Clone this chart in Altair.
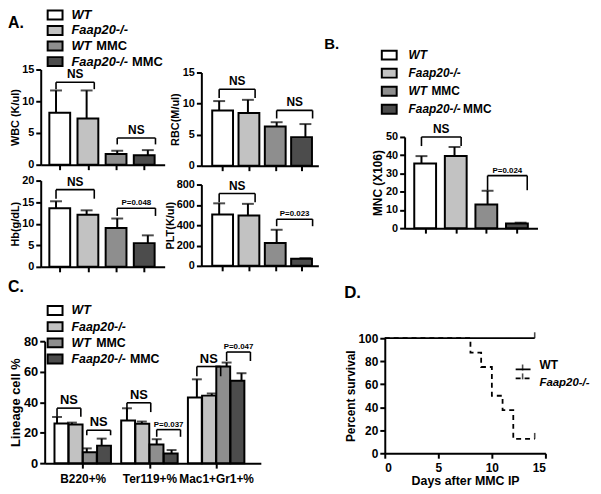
import json
import pandas as pd
import altair as alt

FONT = "Liberation Sans"

# ---------------- data ----------------
GROUPS = ["WT", "Faap20-/-", "WT MMC", "Faap20-/- MMC"]
GROUP_FILLS = ["#ffffff", "#c2c2c2", "#8e8e8e", "#4c4c4c"]

WBC_MEAN = [8.2, 7.3, 1.7, 1.5]
WBC_SEM = [3.5, 4.4, 0.5, 0.8]
RBC_MEAN = [8.9, 8.5, 6.3, 4.6]
RBC_SEM = [1.5, 2.1, 0.7, 2.1]
HB_MEAN = [13.6, 12.1, 9.0, 5.5]
HB_SEM = [1.6, 1.0, 2.2, 1.8]
PLT_MEAN = [505, 495, 225, 70]
PLT_SEM = [110, 115, 130, 5]
MNC_MEAN = [35.5, 39.5, 13.0, 2.5]
MNC_SEM = [4.0, 5.0, 7.5, 0.5]

LINEAGES = ["B220+%", "Ter119+%", "Mac1+Gr1+%"]
LIN_MEAN = {
    "WT": [26.0, 28.0, 43.0],
    "Faap20-/-": [25.3, 25.8, 44.3],
    "WT MMC": [7.1, 12.3, 63.4],
    "Faap20-/- MMC": [11.5, 6.3, 54.0],
}
LIN_SEM = {
    "WT": [4.3, 8.0, 12.0],
    "Faap20-/-": [1.3, 1.5, 1.4],
    "WT MMC": [2.6, 3.4, 2.6],
    "Faap20-/- MMC": [4.6, 2.3, 5.0],
}

# significance brackets: (bar a, bar b, level, leg end, label)
WBC_BR = [(0, 1, 13.0, 11.9, "NS"), (2, 3, 4.2, 3.2, "NS")]
RBC_BR = [(0, 1, 12.3, 10.9, "NS"), (2, 3, 8.9, 7.6, "NS")]
HB_BR = [(0, 1, 17.9, 15.8, "NS"), (2, 3, 13.6, 11.8, "P=0.048")]
PLT_BR = [(0, 1, 712, 625, "NS"), (2, 3, 459, 390, "P=0.023")]
MNC_BR = [(0, 1, 50.0, 45.0, "NS"), (2, 3, 28.8, 20.8, "P=0.024")]
LIN_BR = [(0, 0, 1, 36.1, 30.5, "NS"), (0, 2, 3, 21.6, 18.3, "NS"),
          (1, 0, 1, 39.6, 33.5, "NS"), (1, 2, 3, 22.0, 17.3, "P=0.037"),
          (2, 0, 1, 63.4, 57.0, "NS"), (2, 2, 3, 72.9, 67.0, "P=0.047")]

SURV_SERIES = ["WT", "Faap20-/-"]
WT_DAYS = [0, 14]
WT_PCT = [100, 100]
KO_DAYS = [0, 8, 9, 10, 11, 12, 14]
KO_PCT = [100, 87.5, 75, 50, 37.5, 12.5, 12.5]

PANEL_LABELS = ["A.", "B.", "C.", "D."]

# ---------------- layout helpers ----------------
W, H = 590, 480
OFF = 8


def px(v):
    return v - OFF


def py(v):
    return v - OFF


FILL_SCALE = alt.Scale(domain=GROUPS, range=GROUP_FILLS)
DASH_SCALE = alt.Scale(domain=SURV_SERIES, range=[[1, 0], [5, 4]])
RECT = "M-1,-0.6H1V0.6H-1Z"
GROUP_STEP = 4.7


def bar_panel(df, br, xdom, xrng, yaxis_x, xaxis_y, ydom, ytop, yticks, ytitle,
              bar_size, cap, fs_lab, fs_title, title_pad, ns_fs=12, p_fs=8,
              xvals=None, xlabel_expr=None, xlab_fs=12, right_shift=0.25):
    def xs():
        return alt.Scale(domain=xdom, range=[px(xrng[0]), px(xrng[1])], zero=False, nice=False)

    def ys():
        return alt.Scale(domain=ydom, range=[py(xaxis_y), py(ytop)], zero=False, nice=False)

    xaxis_kw = dict(orient="bottom", offset=py(xaxis_y) - H, values=xvals, title=None,
                    tickSize=5, domainWidth=2, tickWidth=2)
    if xlabel_expr is None:
        xaxis_kw["labels"] = False
    else:
        xaxis_kw.update(labelExpr=xlabel_expr, labelFontSize=xlab_fs, labelPadding=6,
                        labelOverlap=False)
    xaxis = alt.Axis(**xaxis_kw)
    yaxis = alt.Axis(orient="left", offset=-px(yaxis_x), values=yticks, title=ytitle,
                     labelFontSize=fs_lab, titleFontSize=fs_title, titlePadding=title_pad,
                     tickSize=5, domainWidth=2, tickWidth=2, labelPadding=2)
    base = alt.Chart(df).transform_calculate(top="datum.mean + datum.sem")
    err = base.mark_rule(color="black", strokeWidth=2).encode(
        x=alt.X("pos:Q", scale=xs(), axis=None),
        y=alt.Y("mean:Q", scale=ys(), axis=None), y2="top:Q")
    caps = base.mark_tick(orient="horizontal", size=cap, thickness=2, color="black").encode(
        x=alt.X("pos:Q", scale=xs(), axis=None), y=alt.Y("top:Q", scale=ys(), axis=None))
    bars = alt.Chart(df).mark_bar(size=bar_size, stroke="black", strokeWidth=2).encode(
        x=alt.X("pos:Q", scale=xs(), axis=xaxis),
        y=alt.Y("mean:Q", scale=ys(), axis=yaxis),
        y2=alt.datum(0),
        fill=alt.Fill("group:N", scale=FILL_SCALE, legend=None))
    bdf = pd.DataFrame(br, columns=["a", "b", "lev", "leg", "label"])
    bdf["x1"] = bdf["a"]
    bdf["x2"] = bdf["b"] + right_shift
    bb = alt.Chart(bdf)
    hline = bb.mark_rule(color="black", strokeWidth=1.6).encode(
        x=alt.X("x1:Q", scale=xs(), axis=None), x2="x2:Q",
        y=alt.Y("lev:Q", scale=ys(), axis=None))
    leg1 = bb.mark_rule(color="black", strokeWidth=1.6).encode(
        x=alt.X("x1:Q", scale=xs(), axis=None),
        y=alt.Y("lev:Q", scale=ys(), axis=None), y2="leg:Q")
    leg2 = bb.mark_rule(color="black", strokeWidth=1.6).encode(
        x=alt.X("x2:Q", scale=xs(), axis=None),
        y=alt.Y("lev:Q", scale=ys(), axis=None), y2="leg:Q")
    txt = bb.transform_calculate(mid="(datum.x1 + datum.x2) / 2").mark_text(
        baseline="bottom", dy=-1, font=FONT, fontWeight="bold", color="black").encode(
        x=alt.X("mid:Q", scale=xs(), axis=None),
        y=alt.Y("lev:Q", scale=ys(), axis=None), text="label:N",
        size=alt.condition(alt.datum.label == "NS", alt.value(ns_fs), alt.value(p_fs)))
    return [err, caps, bars, hline, leg1, leg2, txt]


def simple_df(means, sems, br_src):
    d = pd.DataFrame({"group": GROUPS, "mean": means, "sem": sems})
    d["pos"] = range(1, len(GROUPS) + 1)
    br = [(a + 1, b + 1, lev, leg, lab) for a, b, lev, leg, lab in br_src]
    return d, br


def group_legend(x_sw, x_txt, y_first, y_last, fs, suffix_x):
    d = pd.DataFrame({"group": GROUPS})
    d["main"] = [g.replace(" MMC", "") for g in GROUPS]
    d["suffix"] = ["MMC" if g.endswith(" MMC") else "" for g in GROUPS]

    def Y():
        return alt.Y("group:N", scale=alt.Scale(domain=GROUPS, range=[py(y_first), py(y_last)],
                                                padding=0), axis=None)
    base = alt.Chart(d)
    sw = base.mark_point(shape=RECT, size=225, filled=True, opacity=1, stroke="black",
                         strokeWidth=2).encode(
        x=alt.value(px(x_sw)), y=Y(), fill=alt.Fill("group:N", scale=FILL_SCALE, legend=None))
    main = base.mark_text(align="left", baseline="middle", font=FONT, fontSize=fs,
                          fontWeight="bold", fontStyle="italic", color="black").encode(
        x=alt.value(px(x_txt)), y=Y(), text="main:N")
    out = [sw, main]
    for m, sx in suffix_x.items():
        out.append(base.transform_filter(alt.datum.suffix != "").transform_filter(
            alt.datum.main == m).mark_text(align="left", baseline="middle", font=FONT,
                                           fontSize=fs, fontWeight="bold", color="black").encode(
            x=alt.value(px(sx)), y=Y(), text="suffix:N"))
    return out


def panel_label(text, x, y, size=16):
    d = pd.DataFrame({"t": [text]})
    return alt.Chart(d).mark_text(align="left", baseline="middle", font=FONT, fontSize=size,
                                  fontWeight="bold", color="black").encode(
        text="t:N", x=alt.value(max(px(x), 0)), y=alt.value(py(y)))


layers = []

# ---------------- panel A ----------------
layers.append(panel_label(PANEL_LABELS[0], 7, 21))
layers += group_legend(55.5, 72, 13, 60, 13, {"WT": 97, "Faap20-/-": 133})

d, br = simple_df(WBC_MEAN, WBC_SEM, WBC_BR)
layers += bar_panel(d, br, [0.5, 4.55], [41, 166], 41, 164, [0, 15], 68, [0, 5, 10, 15],
                    "WBC (K/ul)", 21, 12, 11, 11, 1, xvals=[1, 2, 3, 4])
d, br = simple_df(RBC_MEAN, RBC_SEM, RBC_BR)
layers += bar_panel(d, br, [0.38, 4.45], [203, 321], 203, 165, [0, 15], 71, [0, 5, 10, 15],
                    "RBC(M/ul)", 21, 12, 11, 11, 2, xvals=[1, 2, 3, 4])
d, br = simple_df(HB_MEAN, HB_SEM, HB_BR)
layers += bar_panel(d, br, [0.5, 4.55], [41, 166], 41, 267, [0, 20], 180, [0, 5, 10, 15, 20],
                    "Hb(g/dL)", 21, 12, 11, 11, 1, xvals=[1, 2, 3, 4])
d, br = simple_df(PLT_MEAN, PLT_SEM, PLT_BR)
layers += bar_panel(d, br, [0.38, 4.45], [203, 321], 203, 266, [0, 800], 184,
                    [0, 200, 400, 600, 800], "PLT(K/ul)", 21, 12, 11, 11, 1, xvals=[1, 2, 3, 4])

# ---------------- panel B ----------------
layers.append(panel_label(PANEL_LABELS[1], 327, 42, 15))
layers += group_legend(392.5, 412, 53.5, 108, 12, {"WT": 435, "Faap20-/-": 467})
d, br = simple_df(MNC_MEAN, MNC_SEM, MNC_BR)
layers += bar_panel(d, br, [0.49, 4.51], [408, 542], 408, 228, [0, 50], 136,
                    [0, 10, 20, 30, 40, 50], "MNC (X106)", 22, 12, 11, 12, 1,
                    xvals=[1, 2, 3, 4], right_shift=0.2)

# ---------------- panel C ----------------
layers.append(panel_label(PANEL_LABELS[2], 6, 287.5))
layers += group_legend(55.5, 72, 311, 360, 12.5, {"WT": 97, "Faap20-/-": 131})
rows = []
for g, lin in enumerate(LINEAGES):
    for i, grp in enumerate(GROUPS):
        rows.append({"group": grp, "lineage": lin, "mean": LIN_MEAN[grp][g],
                     "sem": LIN_SEM[grp][g], "pos": g * GROUP_STEP + i})
cdf = pd.DataFrame(rows)
cbr = [(g * GROUP_STEP + a, g * GROUP_STEP + b, lev, leg, lab) for g, a, b, lev, leg, lab in LIN_BR]
centers = [g * GROUP_STEP + 1.5 for g in range(len(LINEAGES))]
lab_expr = f"{json.dumps(LINEAGES)}[floor(datum.value / {GROUP_STEP})]"
layers += bar_panel(cdf, cbr, [-0.83, 13.7], [45, 263], 45, 465, [0, 80], 342,
                    [0, 20, 40, 60, 80], "Lineage cell %", 14, 10, 13, 13, 1,
                    ns_fs=13, xvals=centers, xlabel_expr=lab_expr, xlab_fs=12,
                    right_shift=0.6)

# ---------------- panel D ----------------
layers.append(panel_label(PANEL_LABELS[3], 347, 293.5, 17))
surv = pd.concat([
    pd.DataFrame({"series": SURV_SERIES[0], "day": WT_DAYS, "pct": WT_PCT}),
    pd.DataFrame({"series": SURV_SERIES[1], "day": KO_DAYS, "pct": KO_PCT}),
], ignore_index=True)
last = surv.groupby("series").tail(1)


def dxs():
    return alt.Scale(domain=[0, 15], range=[px(388), px(550)], zero=False, nice=False)


def dys():
    return alt.Scale(domain=[0, 100], range=[py(455), py(339)], zero=False, nice=False)


dxaxis = alt.Axis(orient="bottom", offset=py(455) - H, values=[0, 5, 10, 15],
                  title="Days after MMC IP", labelFontSize=12, titleFontSize=12.5,
                  tickSize=5, domainWidth=2, tickWidth=2, titlePadding=2, labelPadding=4)
dyaxis = alt.Axis(orient="left", offset=-px(388), values=[0, 20, 40, 60, 80, 100],
                  title="Percent survival", labelFontSize=12, titleFontSize=12,
                  tickSize=5, domainWidth=2, tickWidth=2, titlePadding=1)
sline = alt.Chart(surv).mark_line(interpolate="step-after", color="black", strokeWidth=1.8).encode(
    x=alt.X("day:Q", scale=dxs(), axis=dxaxis),
    y=alt.Y("pct:Q", scale=dys(), axis=dyaxis),
    strokeDash=alt.StrokeDash("series:N", scale=DASH_SCALE, legend=None),
    detail="series:N")
cens = alt.Chart(last).mark_tick(orient="vertical", size=6, thickness=1.6, yOffset=-3,
                                 color="black").encode(
    x=alt.X("day:Q", scale=dxs(), axis=None), y=alt.Y("pct:Q", scale=dys(), axis=None))
layers += [sline, cens]

ld = pd.DataFrame({"series": SURV_SERIES})


def LY():
    return alt.Y("series:N", scale=alt.Scale(domain=SURV_SERIES, range=[py(366), py(384)],
                                             padding=0), axis=None)


seg = alt.Chart(ld).mark_rule(color="black", strokeWidth=1.8).encode(
    x=alt.value(px(520)), x2=alt.value(px(535)), y=LY(),
    strokeDash=alt.StrokeDash("series:N", scale=DASH_SCALE, legend=None))
ltk = alt.Chart(ld).mark_tick(orient="vertical", size=6, thickness=1.6, yOffset=-2,
                              color="black").encode(x=alt.value(px(527)), y=LY())
lt1 = alt.Chart(ld).transform_filter(alt.datum.series == SURV_SERIES[0]).mark_text(
    align="left", baseline="middle", font=FONT, fontSize=12, fontWeight="bold",
    color="black").encode(x=alt.value(px(544)), y=LY(), text="series:N")
lt2 = alt.Chart(ld).transform_filter(alt.datum.series == SURV_SERIES[1]).mark_text(
    align="left", baseline="middle", font=FONT, fontSize=11.5, fontWeight="bold",
    fontStyle="italic", color="black").encode(x=alt.value(px(544)), y=LY(), text="series:N")
layers += [seg, ltk, lt1, lt2]

chart = alt.layer(*layers).resolve_scale(
    x="independent", y="independent"
).resolve_axis(
    x="independent", y="independent"
).properties(
    width=W, height=H, padding=0, autosize=alt.AutoSizeParams(type="none")
).configure_view(stroke=None).configure_axis(
    grid=False, labelFont=FONT, titleFont=FONT, labelFontWeight="bold",
    titleFontWeight="bold", labelColor="black", titleColor="black",
    domainColor="black", tickColor="black"
)

chart.save("out.html", embed_options={"renderer": "svg", "actions": False})
